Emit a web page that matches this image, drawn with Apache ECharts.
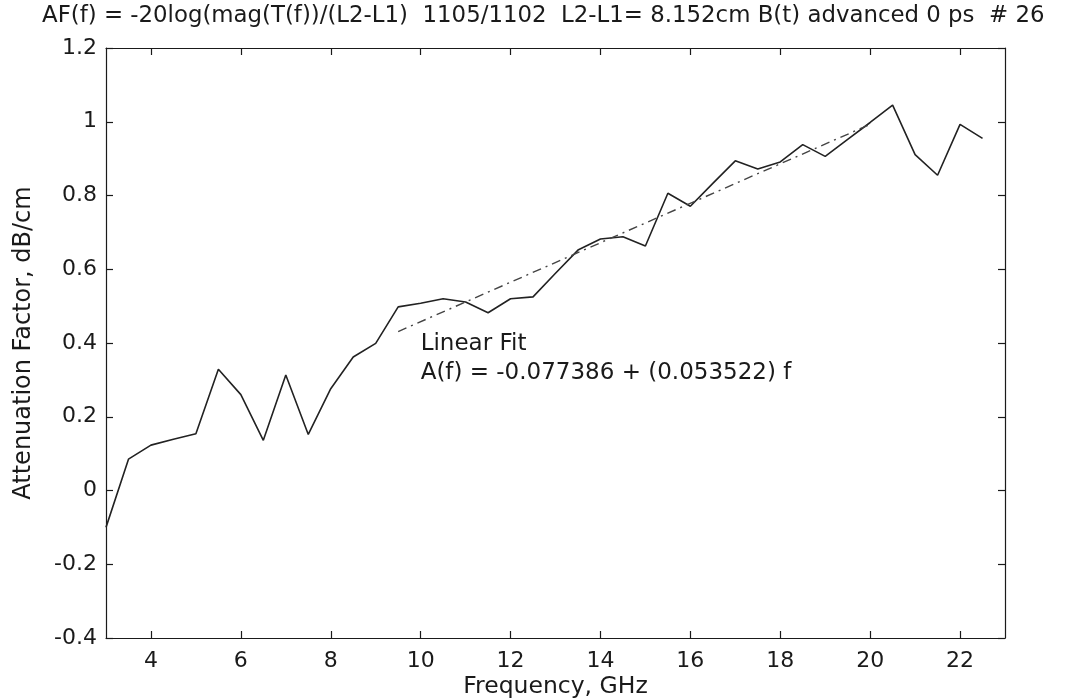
<!DOCTYPE html>
<html>
<head>
<meta charset="utf-8">
<script src="https://cdn.jsdelivr.net/npm/echarts@6/dist/echarts.min.js"></script>
<style>
html,body{margin:0;padding:0;background:#fff;}
#chart{width:1066px;height:699px;}
</style>
</head>
<body>
<div id="chart"></div>
<script>
// ---- data ----
const freqGHz = [3.0,3.5,4.0,4.5,5.0,5.5,6.0,6.5,7.0,7.5,8.0,8.5,9.0,9.5,10.0,10.5,11.0,11.5,12.0,12.5,13.0,13.5,14.0,14.5,15.0,15.5,16.0,16.5,17.0,17.5,18.0,18.5,19.0,19.5,20.0,20.5,21.0,21.5,22.0,22.5];
const attenuation = [-0.10,0.085,0.123,0.139,0.154,0.329,0.26,0.136,0.313,0.152,0.276,0.362,0.399,0.498,0.508,0.52,0.511,0.482,0.52,0.525,0.589,0.652,0.682,0.688,0.663,0.806,0.771,0.833,0.894,0.872,0.891,0.938,0.906,0.952,0.998,1.045,0.911,0.855,0.993,0.955];
const fitFreq = [9.5, 20.0];
const fitValue = [0.431, 0.993];
const xTicks = [4,6,8,10,12,14,16,18,20,22];
const titleText = 'AF(f) = -20log(mag(T(f))/(L2-L1)  1105/1102  L2-L1= 8.152cm B(t) advanced 0 ps  # 26';
const fitLabel1 = 'Linear Fit';
const fitLabel2 = 'A(f) = -0.077386 + (0.053522) f';
const fitLabelAt = [10.0, 0.43];

const font = '"DejaVu Sans", "Liberation Sans", Arial, sans-serif';
const ink = '#1a1a1a';

const chart = echarts.init(document.getElementById('chart'), null, {renderer:'canvas'});

const axisCommon = {
  axisLine:{show:true, onZero:false, lineStyle:{color:ink, width:1.2}},
  splitLine:{show:false},
  axisTick:{show:true, inside:true, length:7, lineStyle:{color:ink, width:1.2}}
};

const option = {
  backgroundColor:'#fff',
  animation:false,
  title:{
    text:titleText, left:37, top:0,
    textStyle:{fontFamily:font, fontSize:22.85, fontWeight:'normal', color:ink}
  },
  grid:{left:106, right:61, top:48, bottom:61, containLabel:false, outerBoundsMode:'none'},
  xAxis:[
    Object.assign({}, axisCommon, {
      type:'value', min:3, max:23, position:'bottom',
      axisTick:Object.assign({}, axisCommon.axisTick, {customValues:xTicks}),
      axisLabel:{customValues:xTicks, fontFamily:font, fontSize:22, color:ink, margin:12},
      name:'Frequency, GHz', nameLocation:'middle', nameGap:37, nameMoveOverlap:false,
      nameTextStyle:{fontFamily:font, fontSize:23.5, color:ink}
    }),
    Object.assign({}, axisCommon, {
      type:'value', min:3, max:23, position:'top',
      axisTick:Object.assign({}, axisCommon.axisTick, {customValues:xTicks}),
      axisLabel:{show:false}
    })
  ],
  yAxis:[
    Object.assign({}, axisCommon, {
      type:'value', min:-0.4, max:1.2, interval:0.2, position:'left',
      axisLabel:{fontFamily:font, fontSize:22, color:ink, margin:9},
      name:'Attenuation Factor, dB/cm', nameLocation:'middle', nameGap:70, nameMoveOverlap:false,
      nameTextStyle:{fontFamily:font, fontSize:24, color:ink}
    }),
    Object.assign({}, axisCommon, {
      type:'value', min:-0.4, max:1.2, interval:0.2, position:'right',
      axisLabel:{show:false}
    })
  ],
  series:[
    {
      type:'line', xAxisIndex:0, yAxisIndex:0,
      data:freqGHz.map((f,i)=>[f, attenuation[i]]),
      showSymbol:false, symbol:'none',
      lineStyle:{color:'#222', width:1.6}
    },
    {
      type:'line', xAxisIndex:0, yAxisIndex:0,
      data:fitFreq.map((f,i)=>[f, fitValue[i]]),
      showSymbol:false, symbol:'none',
      lineStyle:{color:'#444', width:1.4, type:[9,5,2,5]}
    }
  ]
};
chart.setOption(option);

const p = chart.convertToPixel({xAxisIndex:0, yAxisIndex:0}, fitLabelAt);
chart.setOption({
  graphic:[
    {type:'text', left:p[0], top:p[1]+1, style:{text:fitLabel1, font:'23px '+font, fill:ink}},
    {type:'text', left:p[0], top:p[1]+30, style:{text:fitLabel2, font:'23px '+font, fill:ink}}
  ]
});
</script>
</body>
</html>
